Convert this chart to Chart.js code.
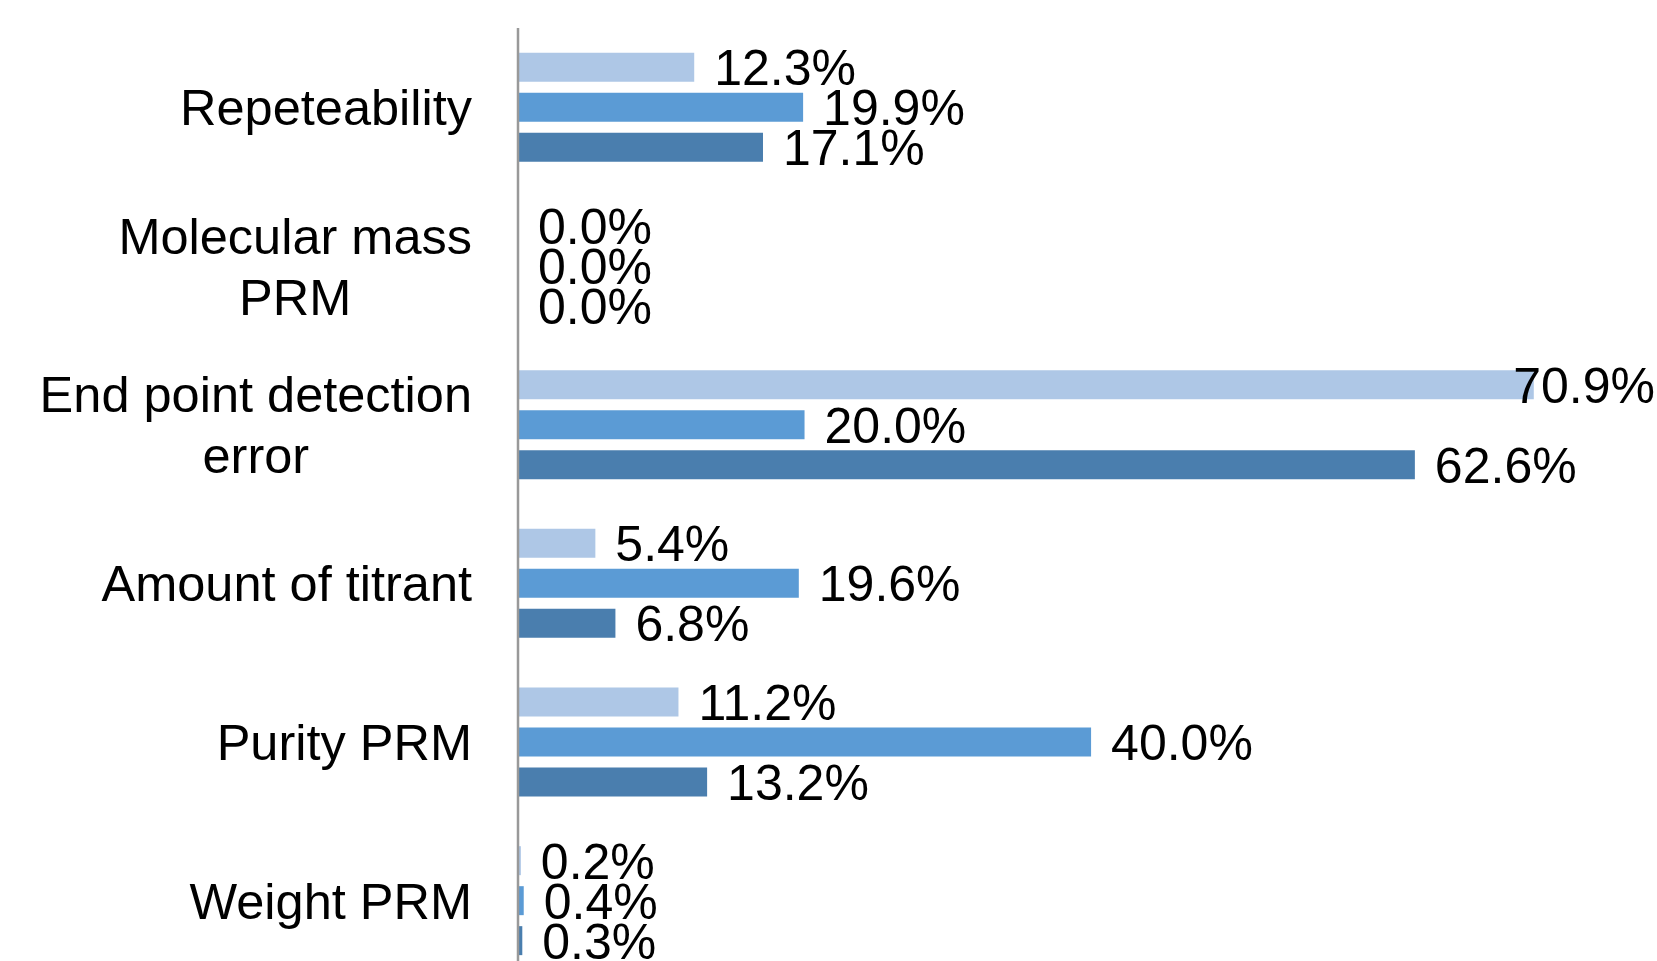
<!DOCTYPE html>
<html>
<head>
<meta charset="utf-8">
<script src="https://cdn.jsdelivr.net/npm/chart.js@4"></script>
<style>
  html, body { margin: 0; padding: 0; background: #fff; overflow: hidden; }
  #wrap { width: 1657px; height: 985px; }
</style>
</head>
<body>
<div id="wrap"><canvas id="myChart"></canvas></div>
<script>
var categories = [
    ['Repeteability'],
    ['Molecular mass', 'PRM'],
    ['End point detection', 'error'],
    ['Amount of titrant'],
    ['Purity PRM'],
    ['Weight PRM']
];
var series1 = [12.3, 0.0, 70.9, 5.4, 11.2, 0.2];
var series2 = [19.9, 0.0, 20.0, 19.6, 40.0, 0.4];
var series3 = [17.1, 0.0, 62.6, 6.8, 13.2, 0.3];
var colors = ['rgb(174, 199, 230)', 'rgb(91, 155, 213)', 'rgb(74, 126, 174)'];

var FONT = '"Liberation Sans", Arial, Helvetica, sans-serif';

// axis line, category labels and value labels
var labelsPlugin = {
    id: 'labelsPlugin',
    afterDatasetsDraw: function(chart) {
        var ctx = chart.ctx;
        var area = chart.chartArea;
        var yScale = chart.scales.y;
        ctx.save();

        // vertical axis line
        ctx.strokeStyle = '#999999';
        ctx.lineWidth = 2.5;
        ctx.beginPath();
        ctx.moveTo(area.left, area.top);
        ctx.lineTo(area.left, chart.height);
        ctx.stroke();

        // category labels: block right-aligned, lines centred in block
        ctx.fillStyle = '#000';
        ctx.font = '50.5px ' + FONT;
        ctx.textBaseline = 'alphabetic';
        ctx.textAlign = 'center';
        var lineH = 61;
        categories.forEach(function(lines, i) {
            var cy = yScale.getPixelForValue(i);
            var w = 0;
            lines.forEach(function(l) { w = Math.max(w, ctx.measureText(l).width); });
            var cx = area.left - 46 - w / 2;
            var y0 = cy - (lines.length - 1) * lineH / 2;
            lines.forEach(function(l, k) {
                ctx.fillText(l, cx, y0 + k * lineH + 18);
            });
        });

        // value labels
        ctx.font = '50px ' + FONT;
        ctx.textAlign = 'left';
        chart.data.datasets.forEach(function(ds, di) {
            var meta = chart.getDatasetMeta(di);
            meta.data.forEach(function(bar, i) {
                var txt = ds.data[i].toFixed(1) + '%';
                var tw = ctx.measureText(txt).width;
                var x = Math.min(bar.x + 20, chart.width - tw - 2);
                ctx.fillText(txt, x, bar.y + 18);
            });
        });
        ctx.restore();
    }
};

var config1 = {
    type: 'bar',
    data: {
        labels: categories,
        datasets: [
            { label: 'Series 1', data: series1, backgroundColor: colors[0] },
            { label: 'Series 2', data: series2, backgroundColor: colors[1] },
            { label: 'Series 3', data: series3, backgroundColor: colors[2] }
        ]
    },
    options: {
        indexAxis: 'y',
        responsive: true,
        maintainAspectRatio: false,
        animation: false,
        layout: { padding: { left: 518, top: 28, right: 0, bottom: 5 } },
        datasets: {
            bar: { categoryPercentage: 0.756, barPercentage: 0.725 }
        },
        plugins: {
            legend: { display: false },
            tooltip: { enabled: false }
        },
        scales: {
            x: { display: false, min: 0, max: 79.5 },
            y: { display: false }
        }
    },
    plugins: [labelsPlugin]
};

var ctx1 = document.getElementById('myChart').getContext('2d');
var mychart1 = new Chart(ctx1, config1);
</script>
</body>
</html>
